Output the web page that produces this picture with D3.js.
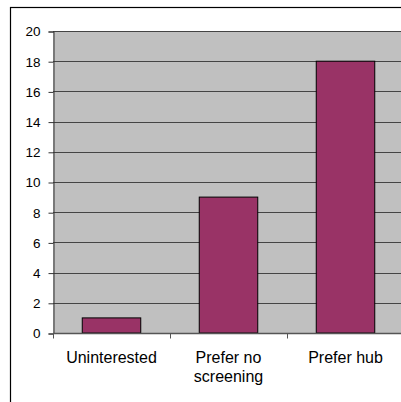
<!DOCTYPE html>
<html><head><meta charset="utf-8">
<script src="https://cdn.jsdelivr.net/npm/d3@7"></script>
<style>body{margin:0;background:#fff;}svg{display:block;}</style>
</head><body>
<svg id="c" width="401" height="402"></svg>
<script>
const categories = [["Uninterested"], ["Prefer no", "screening"], ["Prefer hub"]];
const values = [1, 9, 18];
const yTicks = [0, 2, 4, 6, 8, 10, 12, 14, 16, 18, 20];

(function () {
const svg = d3.select("#c");
const font = "Liberation Sans, Arial, sans-serif";
// outer frame
svg.append("rect").attr("x", 10.5).attr("y", 7.5).attr("width", 500).attr("height", 500)
  .attr("fill", "#fff").attr("stroke", "#000").attr("stroke-width", 1.2);

const pL = 53, pR = 404, pT = 31, pB = 333;
const x = d3.scaleBand().domain(d3.range(categories.length)).range([pL, pR]).paddingInner(0).paddingOuter(0);
const y = d3.scaleLinear().domain([0, 20]).range([pB, pT]);

svg.append("rect").attr("x", pL).attr("y", pT).attr("width", pR - pL).attr("height", pB - pT).attr("fill", "#c0c0c0");

svg.append("g").selectAll("line").data(yTicks.filter(d => d > 0)).join("line")
  .attr("x1", pL).attr("x2", pR)
  .attr("y1", d => Math.round(y(d)) + 0.5).attr("y2", d => Math.round(y(d)) + 0.5)
  .attr("stroke", "#444").attr("stroke-width", 1);

const bw = x.bandwidth() / 2;
svg.append("g").selectAll("rect").data(values).join("rect")
  .attr("x", (d, i) => x(i) + (x.bandwidth() - bw) / 2)
  .attr("y", d => y(d))
  .attr("width", bw)
  .attr("height", d => pB - y(d))
  .attr("fill", "#993366").attr("stroke", "#000").attr("stroke-width", 1);

// y axis
const ya = d3.axisLeft(y).tickValues(yTicks).tickSize(5).tickPadding(8);
const gy = svg.append("g").attr("transform", `translate(${pL + 0.5},0.5)`).call(ya);
gy.select(".domain").attr("stroke", "#333");
gy.selectAll(".tick line").attr("stroke", "#333");
gy.selectAll("text").attr("font-family", font).attr("font-size", 13.5).attr("fill", "#000");

// x axis
const gx = svg.append("g").attr("transform", `translate(0,${pB + 0.5})`);
gx.append("line").attr("x1", pL).attr("x2", pR).attr("stroke", "#555").attr("stroke-width", 1.5);
gx.selectAll(".t").data(d3.range(categories.length + 1)).join("line")
  .attr("x1", i => Math.round(pL + i * x.bandwidth()) + 0.5)
  .attr("x2", i => Math.round(pL + i * x.bandwidth()) + 0.5)
  .attr("y1", 0).attr("y2", 5).attr("stroke", "#555");
const lab = svg.append("g").selectAll("text").data(categories).join("text")
  .attr("text-anchor", "middle").attr("font-family", font).attr("font-size", 16).attr("fill", "#000");
lab.each(function(d, i) {
  const t = d3.select(this);
  d.forEach((s, k) => t.append("tspan").attr("x", x(i) + x.bandwidth() / 2).attr("y", 363 + k * 19).text(s));
});
})();
</script>
</body></html>
